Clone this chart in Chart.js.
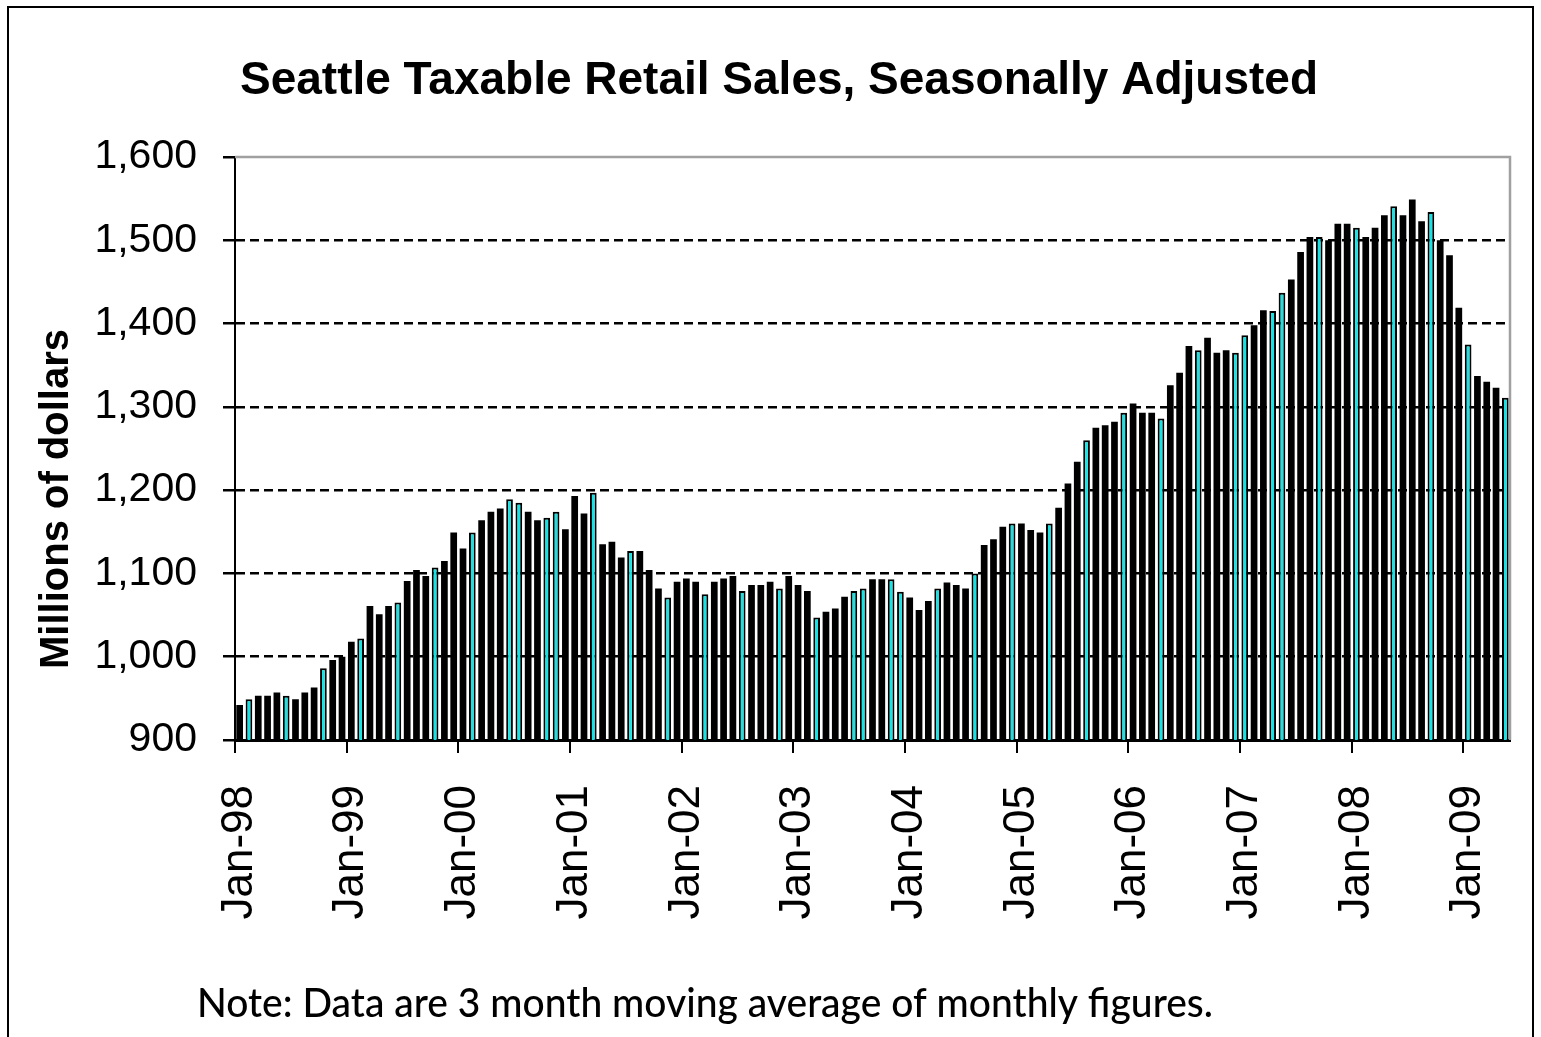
<!DOCTYPE html>
<html>
<head>
<meta charset="utf-8">
<title>Seattle Taxable Retail Sales</title>
<script src="https://cdn.jsdelivr.net/npm/chart.js@4/dist/chart.umd.min.js"></script>
<style>
  html, body { margin: 0; padding: 0; background: #ffffff; }
  canvas { display: block; }
</style>
</head>
<body>
<canvas id="salesChart" width="1541" height="1037"></canvas>
<script>
// Monthly taxable retail sales, millions of dollars (3-month moving average, seasonally adjusted)
const sales1998 = [942, 949, 953, 953, 957, 953, 949, 957, 963, 986, 996, 1000];
const sales1999 = [1018, 1022, 1061, 1051, 1061, 1065, 1091, 1104, 1097, 1107, 1115, 1149];
const sales2000 = [1130, 1149, 1164, 1174, 1178, 1189, 1185, 1174, 1164, 1167, 1174, 1153];
const sales2001 = [1193, 1172, 1197, 1135, 1138, 1119, 1127, 1127, 1104, 1082, 1071, 1090];
const sales2002 = [1094, 1090, 1075, 1090, 1094, 1097, 1079, 1086, 1086, 1090, 1082, 1097];
const sales2003 = [1086, 1079, 1047, 1054, 1058, 1072, 1079, 1082, 1093, 1093, 1093, 1078];
const sales2004 = [1071, 1056, 1067, 1082, 1089, 1086, 1082, 1100, 1134, 1141, 1156, 1160];
const sales2005 = [1160, 1152, 1149, 1160, 1179, 1208, 1234, 1260, 1275, 1278, 1282, 1293];
const sales2006 = [1304, 1293, 1293, 1286, 1326, 1341, 1373, 1368, 1383, 1365, 1368, 1365];
const sales2007 = [1386, 1398, 1416, 1415, 1437, 1453, 1486, 1504, 1504, 1500, 1520, 1520];
const sales2008 = [1515, 1504, 1515, 1530, 1541, 1530, 1549, 1523, 1534, 1500, 1482, 1419];
const sales2009 = [1375, 1337, 1330, 1323, 1311];

const yearSeries = [
  ['98', sales1998], ['99', sales1999], ['00', sales2000], ['01', sales2001],
  ['02', sales2002], ['03', sales2003], ['04', sales2004], ['05', sales2005],
  ['06', sales2006], ['07', sales2007], ['08', sales2008], ['09', sales2009]
];
const monthNames = ['Jan', 'Feb', 'Mar', 'Apr', 'May', 'Jun', 'Jul', 'Aug', 'Sep', 'Oct', 'Nov', 'Dec'];

// Category labels ("Jan-98", "Feb-98", ...) and the flat value list
const months = [];
const sales = [];
yearSeries.forEach(([yy, values]) => {
  values.forEach((v, m) => {
    months.push(monthNames[m] + '-' + yy);
    sales.push(v);
  });
});

// Y-axis range and step
const yMin = 900;
const yMax = 1600;
const yStep = 100;

// Bars that show their cyan fill inside the black outline
const cyanBars = [1, 5, 9, 13, 17, 21, 25, 29, 30, 33, 34, 38, 42, 46, 50, 54, 58, 62, 66, 67,
                  70, 71, 75, 79, 83, 87, 91, 95, 99, 103, 107, 108, 111, 112, 116, 120, 124,
                  128, 132, 136];

const CYAN = '#16e4e4';
const FONT = '"Liberation Sans", Arial, Helvetica, sans-serif';
const noteText = 'Note: Data are 3 month moving average of monthly figures.';
const yTitle = 'Millions of dollars';

Chart.defaults.font.family = FONT;
Chart.defaults.color = '#000';

// Outer frame, plot border, rotated y title and footnote
const decorations = {
  id: 'decorations',
  afterDraw(chart) {
    const { ctx, chartArea } = chart;
    ctx.save();
    // outer frame
    ctx.strokeStyle = '#000';
    ctx.lineWidth = 2;
    ctx.strokeRect(8, 7, 1525, 1045);
    // plot area top and right edges
    ctx.strokeStyle = '#a0a0a0';
    ctx.lineWidth = 2.5;
    ctx.beginPath();
    ctx.moveTo(chartArea.left, chartArea.top);
    ctx.lineTo(chartArea.right, chartArea.top);
    ctx.lineTo(chartArea.right, chartArea.bottom);
    ctx.stroke();
    // y-axis title
    ctx.fillStyle = '#000';
    ctx.font = 'bold 40px ' + FONT;
    ctx.textAlign = 'center';
    ctx.textBaseline = 'alphabetic';
    ctx.translate(68, 499);
    ctx.rotate(-Math.PI / 2);
    ctx.fillText(yTitle, 0, 0);
    ctx.restore();

    // footnote
    ctx.save();
    ctx.fillStyle = '#000';
    ctx.font = '500 41px Lato, "Open Sans", sans-serif';
    ctx.textAlign = 'left';
    ctx.textBaseline = 'alphabetic';
    const w = ctx.measureText(noteText).width;
    ctx.translate(197, 1017);
    ctx.scale(1016 / w, 1);
    ctx.fillText(noteText, 0, 0);
    ctx.restore();
  }
};

new Chart(document.getElementById('salesChart'), {
  type: 'bar',
  data: {
    labels: months,
    datasets: [{
      data: sales,
      backgroundColor: (c) => cyanBars.includes(c.dataIndex) ? CYAN : '#000',
      borderColor: '#000',
      borderWidth: (c) => cyanBars.includes(c.dataIndex) ? 2 : 0,
      borderSkipped: false,
      barPercentage: 0.72,
      categoryPercentage: 1.0
    }]
  },
  options: {
    responsive: false,
    animation: false,
    events: [],
    layout: { padding: { left: 48, right: 31, top: 0, bottom: 0 } },
    plugins: {
      legend: { display: false },
      tooltip: { enabled: false },
      title: {
        display: true,
        text: 'Seattle Taxable Retail Sales, Seasonally Adjusted',
        color: '#000',
        font: { family: FONT, size: 46, weight: 'bold', lineHeight: 1.2 },
        padding: { top: 54, bottom: 47.8 }
      }
    },
    scales: {
      x: {
        offset: true,
        grid: {
          offset: true,
          drawOnChartArea: false,
          drawTicks: true,
          tickLength: 13,
          lineWidth: 2,
          color: (c) => (c.index % 12 === 0) ? '#000' : 'rgba(0,0,0,0)',
          tickColor: (c) => (c.index % 12 === 0) ? '#000' : 'rgba(0,0,0,0)'
        },
        border: { display: true, color: '#000', width: 3 },
        ticks: {
          autoSkip: false,
          maxRotation: 90,
          minRotation: 90,
          padding: 32,
          color: '#000',
          font: { family: FONT, size: 44 },
          callback: (value, index) => (index % 12 === 0) ? months[index] : ''
        },
        afterFit: (scale) => {
          scale.height = 1037 - 740;
          scale.paddingLeft = 0;
          scale.paddingRight = 0;
        }
      },
      y: {
        min: yMin,
        max: yMax,
        ticks: {
          stepSize: yStep,
          padding: 26,
          color: '#000',
          font: { family: FONT, size: 41 }
        },
        grid: {
          lineWidth: 2.5,
          tickLength: 12,
          color: (c) => (c.tick.value === yMin || c.tick.value === yMax) ? 'rgba(0,0,0,0)' : '#000',
          tickColor: '#000',
          tickBorderDash: [100, 0]
        },
        border: { display: true, color: '#000', width: 2, dash: [9, 5] },
        afterFit: (scale) => { scale.width = 235 - 48; }
      }
    }
  },
  plugins: [decorations]
});
</script>
</body>
</html>
